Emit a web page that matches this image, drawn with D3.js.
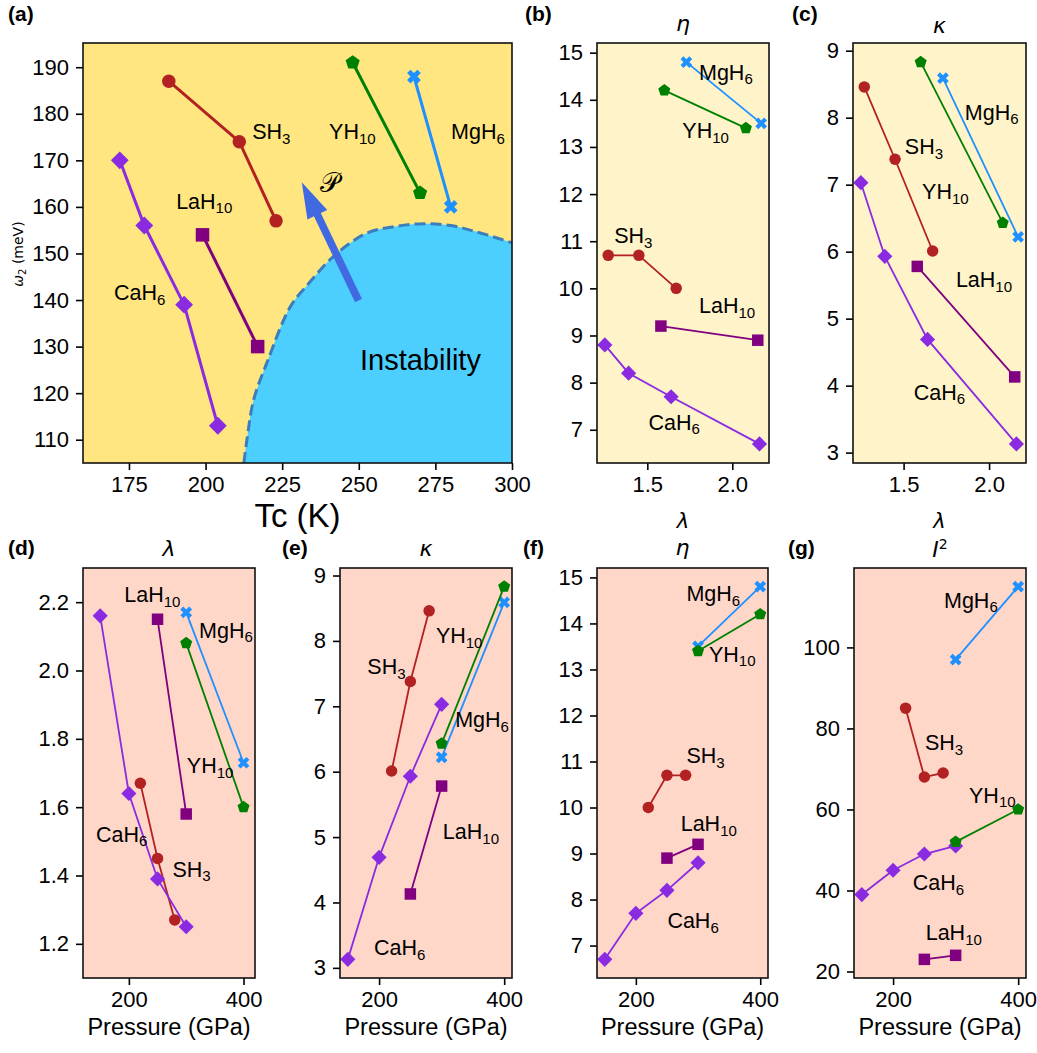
<!DOCTYPE html>
<html>
<head>
<meta charset="utf-8">
<script src="https://cdn.jsdelivr.net/npm/d3@7"></script>
<style>
body { margin: 0; background: #fff; }
text { font-family: "Liberation Sans", Arial, sans-serif; fill: #000; }
.math { font-family: "DejaVu Sans", sans-serif; font-style: italic; }
</style>
</head>
<body>
<svg id="fig" width="1037" height="1053"></svg>
<script>
// compounds, always in this order
var names = ["CaH", "LaH", "SH", "YH", "MgH"];
var subs = ["6", "10", "3", "10", "6"];
var colors = ["#8a2be2", "#800080", "#b22222", "#008000", "#1e90ff"];
var markers = ["diamond", "square", "circle", "pentagon", "x"];
var drawOrder = [4, 2, 1, 0, 3];

// values
var pressure = [[150, 200, 250, 300], [250, 300], [220, 250, 280], [300, 400], [300, 400]];
var tc = [[204, 193, 180, 172], [217, 199], [223, 211, 188], [270, 248], [280, 268]];
var omega2 = [[113, 139, 156, 170], [130, 154], [157, 174, 187], [163, 191], [160, 188]];
var lambda = [[2.16, 1.64, 1.39, 1.25], [2.15, 1.58], [1.67, 1.45, 1.27], [2.08, 1.60], [2.17, 1.73]];
var eta = [[6.7, 7.7, 8.2, 8.8], [8.9, 9.2], [10.0, 10.7, 10.7], [13.4, 14.2], [13.5, 14.8]];
var kappa = [[3.13, 4.69, 5.93, 7.03], [4.13, 5.78], [6.01, 7.38, 8.46], [6.43, 8.83], [6.22, 8.59]];
var iSq = [[39, 45, 49, 51], [23, 24], [85, 68, 69], [52, 60], [97, 115]];

// instability boundary in panel (a)
var edgeTc = [212.5, 213.5, 215.7, 220, 227.7, 234, 241.8, 252.7, 262, 271.3, 280, 287.6, 300];
var edgeW = [105, 110, 118.6, 126.5, 138.6, 143.8, 149.4, 154.4, 155.8, 156.4, 156, 154.8, 152.3];
var arrowFrom = [249.9, 139.9];
var arrowTo = [231.4, 165.3];

// tick values
var ticksTc = [175, 200, 225, 250, 275, 300];
var ticksW = [110, 120, 130, 140, 150, 160, 170, 180, 190];
var ticksLam = [1.5, 2.0];
var ticksEta = [7, 8, 9, 10, 11, 12, 13, 14, 15];
var ticksKap = [3, 4, 5, 6, 7, 8, 9];
var ticksP = [200, 400];
var ticksLamY = [1.2, 1.4, 1.6, 1.8, 2.0, 2.2];
var ticksI = [20, 40, 60, 80, 100];

// label anchors (data coords), compound order
var labA = [[170.1, 139.9], [190.4, 159.6], [215.2, 174.6], [240.3, 174.6], [280.1, 174.6]];
var labB = [[1.507, 7.0], [1.804, 9.48], [1.305, 10.96], [1.706, 13.19], [1.804, 14.43]];
var labC = [[1.56, 3.79], [1.806, 5.47], [1.507, 7.46], [1.608, 6.78], [1.858, 7.97]];
var labD = [[142.6, 1.499], [191.9, 2.2], [276, 1.397], [301.1, 1.70], [322.5, 2.096]];
var labE = [[191.9, 3.2], [301.9, 4.97], [181.2, 7.49], [290.8, 7.97], [321.7, 6.68]];
var labF = [[250.7, 7.38], [272.1, 9.48], [281.3, 10.96], [317.6, 13.17], [281.3, 14.49]];
var labG = [[231.3, 40.0], [252.1, 27.8], [251, 74.7], [321.4, 61.7], [281.4, 109.8]];

var svg = d3.select("#fig");

function markerPath(type, ms) {
  var h = ms / 2, pts;
  if (type == "circle") return d3.symbol(d3.symbolCircle, Math.PI * h * h)();
  if (type == "square") pts = [[-h, -h], [h, -h], [h, h], [-h, h]];
  if (type == "diamond") { var d = ms * 0.66; pts = [[0, -d], [d, 0], [0, d], [-d, 0]]; }
  if (type == "pentagon") {
    pts = d3.range(5).map(function(k) {
      var a = -Math.PI / 2 + k * 2 * Math.PI / 5;
      return [Math.cos(a) * h * 1.1, Math.sin(a) * h * 1.1];
    });
  }
  if (type == "x") {
    pts = [[-0.25, -0.5], [0, -0.25], [0.25, -0.5], [0.5, -0.25], [0.25, 0], [0.5, 0.25],
           [0.25, 0.5], [0, 0.25], [-0.25, 0.5], [-0.5, 0.25], [-0.25, 0], [-0.5, -0.25]]
      .map(function(p) { return [p[0] * ms * 1.02, p[1] * ms * 1.02]; });
  }
  return "M" + pts.map(function(p) { return p.join(","); }).join("L") + "Z";
}

function formula(g, x, y, base, sub, size) {
  var t = g.append("text").attr("x", x).attr("y", y).attr("font-size", size);
  t.append("tspan").text(base);
  t.append("tspan").attr("font-size", size * 0.7).attr("dy", size * 0.22).text(sub);
}

var clipN = 0;
function panel(cfg) {
  var x = d3.scaleLinear().domain(cfg.xdom).range([cfg.left, cfg.right]);
  var y = d3.scaleLinear().domain(cfg.ydom).range([cfg.bottom, cfg.top]);
  var g = svg.append("g");
  var id = "clip" + (clipN++);
  svg.append("clipPath").attr("id", id).append("rect")
    .attr("x", cfg.left).attr("y", cfg.top)
    .attr("width", cfg.right - cfg.left).attr("height", cfg.bottom - cfg.top);

  g.append("rect").attr("x", cfg.left).attr("y", cfg.top)
    .attr("width", cfg.right - cfg.left).attr("height", cfg.bottom - cfg.top)
    .attr("fill", cfg.bg);

  if (cfg.extra) cfg.extra(g, x, y, id);

  var lw = cfg.big ? 3 : 1.8;
  var ms = cfg.big ? 13.5 : 11.5;
  drawOrder.forEach(function(i) {
    var pts = cfg.xs[i].map(function(v, j) { return [x(v), y(cfg.ys[i][j])]; });
    g.append("path").attr("d", d3.line()(pts))
      .attr("fill", "none").attr("stroke", colors[i]).attr("stroke-width", lw)
      .attr("clip-path", "url(#" + id + ")");
    g.selectAll(null).data(pts).enter().append("path")
      .attr("d", markerPath(markers[i], ms))
      .attr("transform", function(p) { return "translate(" + p[0] + "," + p[1] + ")"; })
      .attr("fill", colors[i]);
  });

  cfg.labels.forEach(function(p, i) {
    formula(g, x(p[0]), y(p[1]), names[i], subs[i], 21.5);
  });

  var ax = g.append("g").attr("transform", "translate(0," + cfg.bottom + ")")
    .call(d3.axisBottom(x).tickValues(cfg.xticks).tickFormat(cfg.xfmt).tickSize(7).tickPadding(6));
  var ay = g.append("g").attr("transform", "translate(" + cfg.left + ",0)")
    .call(d3.axisLeft(y).tickValues(cfg.yticks).tickFormat(cfg.yfmt).tickSize(7).tickPadding(7));
  [ax, ay].forEach(function(a) {
    a.select(".domain").remove();
    a.attr("font-size", 22);
    a.selectAll("line").attr("stroke-width", 1.6);
  });

  g.append("rect").attr("x", cfg.left).attr("y", cfg.top)
    .attr("width", cfg.right - cfg.left).attr("height", cfg.bottom - cfg.top)
    .attr("fill", "none").attr("stroke", "#111").attr("stroke-width", 1.6);

  var cx = (cfg.left + cfg.right) / 2;
  g.append("text").attr("x", cfg.tagX).attr("y", cfg.tagY).attr("font-size", 21)
    .attr("font-weight", "bold").text("(" + cfg.tag + ")");
  if (cfg.title) cfg.title(g, cx);
  if (cfg.xlabel) cfg.xlabel(g, cx);
  return { x: x, y: y, g: g };
}

function mathText(txt, baseY, size) {
  return function(g, cx) {
    g.append("text").attr("class", "math").attr("x", cx).attr("y", baseY)
      .attr("text-anchor", "middle").attr("font-size", size || 22).text(txt);
  };
}
function pressureLabel(g, cx) {
  g.append("text").attr("x", cx).attr("y", 1035).attr("text-anchor", "middle")
    .attr("font-size", 23.5).text("Pressure (GPa)");
}

var fmt1 = d3.format(".1f");
var fmt0 = d3.format("d");
var top1 = 43, bot1 = 463, top2 = 568, bot2 = 978;

// (a)
panel({
  tag: "a", tagX: 8, tagY: 21, big: true,
  left: 83, right: 512, top: top1, bottom: bot1, bg: "#ffe680",
  xdom: [160, 300], ydom: [105, 195.2], xticks: ticksTc, yticks: ticksW, xfmt: fmt0, yfmt: fmt0,
  xs: tc, ys: omega2, labels: labA,
  extra: function(g, x, y, id) {
    var edge = edgeTc.map(function(v, k) { return [v, edgeW[k]]; });
    g.append("path").datum(edge)
      .attr("d", d3.area().x(function(d) { return x(d[0]); }).y0(y(105) + 5)
        .y1(function(d) { return y(d[1]); }).curve(d3.curveCatmullRom))
      .attr("fill", "#4ccfff").attr("clip-path", "url(#" + id + ")");
    g.append("path").datum(edge)
      .attr("d", d3.line().x(function(d) { return x(d[0]); }).y(function(d) { return y(d[1]); })
        .curve(d3.curveCatmullRom))
      .attr("fill", "none").attr("stroke", "#3b7dbd").attr("stroke-width", 3)
      .attr("stroke-dasharray", "11,5").attr("clip-path", "url(#" + id + ")");

    // pressure arrow
    var x0 = x(arrowFrom[0]), y0 = y(arrowFrom[1]), x1 = x(arrowTo[0]), y1 = y(arrowTo[1]);
    var len = Math.hypot(x1 - x0, y1 - y0), ux = (x1 - x0) / len, uy = (y1 - y0) / len;
    var nx = -uy, ny = ux, hl = 36, sw = 3.8, hw = 11;
    var bx = x1 - ux * hl, by = y1 - uy * hl;
    var pts = [[x0 + nx * sw, y0 + ny * sw], [bx + nx * sw, by + ny * sw], [bx + nx * hw, by + ny * hw],
      [x1, y1], [bx - nx * hw, by - ny * hw], [bx - nx * sw, by - ny * sw], [x0 - nx * sw, y0 - ny * sw]];
    g.append("path").attr("d", "M" + pts.map(function(p) { return p.join(","); }).join("L") + "Z")
      .attr("fill", "#4169e1");
    g.append("text").attr("x", x(237.5)).attr("y", y(163.2)).attr("font-size", 27)
      .attr("font-family", "DejaVu Serif").text("\u{1D4AB}");
    g.append("text").attr("x", x(250.4)).attr("y", y(124.9)).attr("font-size", 29).text("Instability");
  },
  xlabel: function(g, cx) {
    g.append("text").attr("x", cx).attr("y", 527).attr("text-anchor", "middle")
      .attr("font-size", 33).text("Tc (K)");
    var t = g.append("text").attr("transform", "translate(23,254) rotate(-90)")
      .attr("text-anchor", "middle").attr("font-size", 14).attr("font-family", "DejaVu Sans");
    t.append("tspan").attr("class", "math").text("\u03c9");
    t.append("tspan").attr("font-family", "DejaVu Sans").attr("font-size", 10).attr("dy", 3).text("2");
    t.append("tspan").attr("font-family", "DejaVu Sans").attr("dy", -3).text(" (meV)");
  }
});

// (b)
panel({
  tag: "b", tagX: 525, tagY: 21,
  left: 597, right: 769, top: top1, bottom: bot1, bg: "#fff3c9",
  xdom: [1.204, 2.216], ydom: [6.295, 15.205], xticks: ticksLam, yticks: ticksEta, xfmt: fmt1, yfmt: fmt0,
  xs: lambda, ys: eta, labels: labB,
  title: mathText("\u03b7", 31), xlabel: mathText("\u03bb", 528, 21)
});

// (c)
panel({
  tag: "c", tagX: 792, tagY: 21,
  left: 853, right: 1026, top: top1, bottom: bot1, bg: "#fff3c9",
  xdom: [1.204, 2.216], ydom: [2.845, 9.115], xticks: ticksLam, yticks: ticksKap, xfmt: fmt1, yfmt: fmt0,
  xs: lambda, ys: kappa, labels: labC,
  title: mathText("\u03ba", 33), xlabel: mathText("\u03bb", 528, 21)
});

// (d)
panel({
  tag: "d", tagX: 8, tagY: 555,
  left: 83, right: 255, top: top2, bottom: bot2, bg: "#ffd7c8",
  xdom: [120, 420], ydom: [1.1, 2.3], xticks: ticksP, yticks: ticksLamY, xfmt: fmt0, yfmt: fmt1,
  xs: pressure, ys: lambda, labels: labD,
  title: mathText("\u03bb", 556), xlabel: pressureLabel
});

// (e)
panel({
  tag: "e", tagX: 282, tagY: 555,
  left: 340, right: 512, top: top2, bottom: bot2, bg: "#ffd7c8",
  xdom: [137.5, 412.5], ydom: [2.845, 9.115], xticks: ticksP, yticks: ticksKap, xfmt: fmt0, yfmt: fmt0,
  xs: pressure, ys: kappa, labels: labE,
  title: mathText("\u03ba", 556), xlabel: pressureLabel
});

// (f)
panel({
  tag: "f", tagX: 523, tagY: 555,
  left: 597, right: 768, top: top2, bottom: bot2, bg: "#ffd7c8",
  xdom: [137.5, 412.5], ydom: [6.295, 15.205], xticks: ticksP, yticks: ticksEta, xfmt: fmt0, yfmt: fmt0,
  xs: pressure, ys: eta, labels: labF,
  title: mathText("\u03b7", 555), xlabel: pressureLabel
});

// (g)
panel({
  tag: "g", tagX: 788, tagY: 555,
  left: 854, right: 1026, top: top2, bottom: bot2, bg: "#ffd7c8",
  xdom: [137.5, 412.5], ydom: [18.4, 119.6], xticks: ticksP, yticks: ticksI, xfmt: fmt0, yfmt: fmt0,
  xs: pressure, ys: iSq, labels: labG,
  title: function(g, cx) {
    var t = g.append("text").attr("x", cx).attr("y", 557).attr("text-anchor", "middle").attr("font-size", 22);
    t.append("tspan").attr("class", "math").text("I");
    t.append("tspan").attr("font-family", "DejaVu Sans").attr("font-size", 14).attr("dy", -8).text("2");
  },
  xlabel: pressureLabel
});
</script>
</body>
</html>
